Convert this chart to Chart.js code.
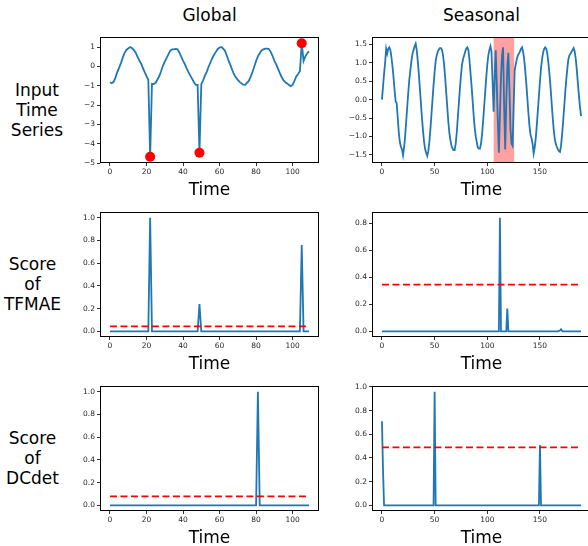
<!DOCTYPE html>
<html>
<head>
<meta charset="utf-8">
<title>Global vs Seasonal anomaly scores</title>
<script src="https://cdn.jsdelivr.net/npm/chart.js@4.4.1/dist/chart.umd.min.js"></script>
<style>
  html, body { margin: 0; padding: 0; width: 588px; height: 546px; overflow: hidden; background: #fff; }
  body { position: relative; font-family: "DejaVu Sans", sans-serif; color: #000; }
  canvas { position: absolute; }
  .col-title { position: absolute; width: 200px; text-align: center; font-size: 17px; line-height: 20px; }
  .row-label { position: absolute; width: 80px; text-align: center; font-size: 17px; line-height: 20px; }
</style>
</head>
<body>
<div class="col-title" style="left:109.5px; top:5px;">Global</div>
<div class="col-title" style="left:381.5px; top:5px;">Seasonal</div>
<div class="row-label" style="left:-3px; top:80px;">Input<br>Time<br>Series</div>
<div class="row-label" style="left:-7.5px; top:254px;">Score<br>of<br>TFMAE</div>
<div class="row-label" style="left:-7.5px; top:428px;">Score<br>of<br>DCdet</div>

<canvas id="input-global"></canvas>
<canvas id="input-seasonal"></canvas>
<canvas id="tfmae-global"></canvas>
<canvas id="tfmae-seasonal"></canvas>
<canvas id="dcdet-global"></canvas>
<canvas id="dcdet-seasonal"></canvas>

<script>
// ---- data ----
const globalSeries = [
  -0.82, -0.87, -0.80, -0.58, -0.30, -0.08, 0.17, 0.45, 0.70, 0.85,
  0.93, 1.00, 0.95, 0.85, 0.72, 0.52, 0.32, 0.15, -0.08, -0.30,
  -0.50, -0.69, -4.68, -0.90, -0.92, -0.85, -0.68, -0.50, -0.25, 0.03,
  0.25, 0.43, 0.62, 0.82, 0.88, 0.88, 0.90, 0.88, 0.72, 0.50,
  0.30, 0.12, -0.10, -0.30, -0.48, -0.65, -0.82, -0.96, -0.96, -4.47,
  -0.93, -0.72, -0.48, -0.28, -0.02, 0.20, 0.42, 0.60, 0.75, 0.90,
  0.97, 1.00, 0.92, 0.80, 0.55, 0.28, 0.05, -0.20, -0.42, -0.58,
  -0.70, -0.80, -0.88, -0.95, -0.96, -0.85, -0.75, -0.55, -0.30, -0.02,
  0.28, 0.52, 0.68, 0.83, 0.88, 0.92, 0.92, 0.90, 0.75, 0.55,
  0.30, 0.10, -0.12, -0.35, -0.55, -0.72, -0.82, -0.88, -0.96, -1.02,
  -0.96, -0.75, -0.52, -0.40, -0.25, 1.20, 0.28, 0.52, 0.68, 0.78
];
const globalAnomalyTimes = [22, 49, 105];
const globalAnomalyValues = [-4.68, -4.47, 1.20];

const seasonalSeries = [
  0.00, 0.35, 0.70, 1.00, 1.38, 1.25, 1.38, 1.42, 1.35, 1.15,
  0.90, 0.60, 0.25, -0.05, -0.10, -0.50, -0.90, -1.15, -1.28, -1.35,
  -1.51, -1.30, -1.00, -0.60, -0.20, 0.20, 0.55, 0.80, 1.05, 1.25,
  1.35, 1.45, 1.52, 1.35, 1.05, 0.70, 0.30, -0.10, -0.50, -0.85,
  -1.15, -1.35, -1.45, -1.53, -1.40, -1.15, -0.80, -0.40, 0.00, 0.40,
  0.75, 1.05, 1.20, 1.30, 1.36, 1.40, 1.40, 1.35, 1.20, 0.95,
  0.60, 0.20, -0.20, -0.60, -0.90, -1.10, -1.25, -1.33, -1.37, -1.37,
  -1.20, -0.90, -0.50, -0.10, 0.30, 0.65, 0.95, 1.10, 1.20, 1.30,
  1.38, 1.42, 1.35, 1.10, 0.75, 0.40, 0.00, -0.40, -0.75, -1.00,
  -1.15, -1.30, -1.33, -1.33, -1.20, -0.95, -0.60, -0.20, 0.20, 0.60,
  0.95, 1.20, 1.35, 1.45, 1.30, 0.50, -0.33, 0.60, 1.34, 0.40,
  -0.60, -1.44, -0.40, 0.60, 1.20, 1.42, -0.20, -1.35, -0.10, 0.90,
  1.27, 0.30, -0.80, -1.19, -1.25, -0.20, 0.80, 0.95, 1.10, 1.20,
  1.25, 1.30, 1.38, 1.42, 1.30, 1.10, 0.80, 0.45, 0.05, -0.35,
  -0.70, -0.95, -1.05, -1.20, -1.46, -1.30, -1.05, -0.70, -0.30, 0.10,
  0.50, 0.85, 1.10, 1.28, 1.38, 1.42, 1.38, 1.25, 1.00, 0.70,
  0.35, -0.05, -0.45, -0.80, -1.05, -1.20, -1.28, -1.35, -1.40, -1.42,
  -1.25, -0.95, -0.60, -0.20, 0.20, 0.55, 0.85, 1.10, 1.20, 1.25,
  1.30, 1.35, 1.40, 1.30, 1.10, 0.80, 0.45, 0.10, -0.20, -0.45
];
const seasonalAnomalySpan = [106, 125.5];

const tfmaeGlobal = [
  0, 0, 0, 0, 0, 0, 0, 0, 0, 0,
  0, 0, 0, 0, 0, 0, 0, 0, 0, 0,
  0, 0, 1.00, 0, 0, 0, 0, 0, 0, 0,
  0, 0, 0, 0, 0, 0, 0, 0, 0, 0,
  0, 0, 0, 0, 0, 0, 0, 0, 0, 0.24,
  0, 0, 0, 0, 0, 0, 0, 0, 0, 0,
  0, 0, 0, 0, 0, 0, 0, 0, 0, 0,
  0, 0, 0, 0, 0, 0, 0, 0, 0, 0,
  0, 0, 0, 0, 0, 0, 0, 0, 0, 0,
  0, 0, 0, 0, 0, 0, 0, 0, 0, 0,
  0, 0, 0, 0, 0, 0.76, 0, 0, 0, 0
];
const tfmaeGlobalThreshold = 0.044;

const tfmaeSeasonal = [
  0, 0, 0, 0, 0, 0, 0, 0, 0, 0,
  0, 0, 0, 0, 0, 0, 0, 0, 0, 0,
  0, 0, 0, 0, 0, 0, 0, 0, 0, 0,
  0, 0, 0, 0, 0, 0, 0, 0, 0, 0,
  0, 0, 0, 0, 0, 0, 0, 0, 0, 0,
  0, 0, 0, 0, 0, 0, 0, 0, 0, 0,
  0, 0, 0, 0, 0, 0, 0, 0, 0, 0,
  0, 0, 0, 0, 0, 0, 0, 0, 0, 0,
  0, 0, 0, 0, 0, 0, 0, 0, 0, 0,
  0, 0, 0, 0, 0, 0, 0, 0, 0, 0,
  0, 0, 0, 0, 0, 0, 0, 0, 0, 0,
  0, 0, 0.84, 0, 0, 0, 0, 0, 0, 0.168,
  0, 0, 0, 0, 0, 0, 0, 0, 0, 0,
  0, 0, 0, 0, 0, 0, 0, 0, 0, 0,
  0, 0, 0, 0, 0, 0, 0, 0, 0, 0,
  0, 0, 0, 0, 0, 0, 0, 0, 0, 0,
  0, 0, 0, 0, 0, 0, 0, 0, 0.004, 0.006,
  0.015, 0.003, 0, 0, 0, 0, 0, 0, 0, 0,
  0, 0, 0, 0, 0, 0, 0, 0, 0, 0
];
const tfmaeSeasonalThreshold = 0.345;

const dcdetGlobal = [
  0, 0, 0, 0, 0, 0, 0, 0, 0, 0,
  0, 0, 0, 0, 0, 0, 0, 0, 0, 0,
  0, 0, 0, 0, 0, 0, 0, 0, 0, 0,
  0, 0, 0, 0, 0, 0, 0, 0, 0, 0,
  0, 0, 0, 0, 0, 0, 0, 0, 0, 0,
  0, 0, 0, 0, 0, 0, 0, 0, 0, 0,
  0, 0, 0, 0, 0, 0, 0, 0, 0, 0,
  0, 0, 0, 0, 0, 0, 0, 0, 0, 0,
  0, 1.00, 0, 0, 0, 0, 0, 0, 0, 0,
  0, 0, 0, 0, 0, 0, 0, 0, 0, 0,
  0, 0, 0, 0, 0, 0, 0, 0, 0, 0
];
const dcdetGlobalThreshold = 0.079;

const dcdetSeasonal = [
  0.71, 0.30, 0, 0, 0, 0, 0, 0, 0, 0,
  0, 0, 0, 0, 0, 0, 0, 0, 0, 0,
  0, 0, 0, 0, 0, 0, 0, 0, 0, 0,
  0, 0, 0, 0, 0, 0, 0, 0, 0, 0,
  0, 0, 0, 0, 0, 0, 0, 0, 0, 0,
  0.96, 0, 0, 0, 0, 0, 0, 0, 0, 0,
  0, 0, 0, 0, 0, 0, 0, 0, 0, 0,
  0, 0, 0, 0, 0, 0, 0, 0, 0, 0,
  0, 0, 0, 0, 0, 0, 0, 0, 0, 0,
  0, 0, 0, 0, 0, 0, 0, 0, 0, 0,
  0, 0, 0, 0, 0, 0, 0, 0, 0, 0,
  0, 0, 0, 0, 0, 0, 0, 0, 0, 0,
  0, 0, 0, 0, 0, 0, 0, 0, 0, 0,
  0, 0, 0, 0, 0, 0, 0, 0, 0, 0,
  0, 0, 0, 0, 0, 0, 0, 0, 0, 0,
  0.51, 0, 0, 0, 0, 0, 0, 0, 0, 0,
  0, 0, 0, 0, 0, 0, 0, 0, 0, 0,
  0, 0, 0, 0, 0, 0, 0, 0, 0, 0,
  0, 0, 0, 0, 0, 0, 0, 0, 0, 0
];
const dcdetSeasonalThreshold = 0.49;

// tick positions
const globalTimeTicks = [0, 20, 40, 60, 80, 100];
const seasonalTimeTicks = [0, 50, 100, 150];
const globalValueTicks = [-5, -4, -3, -2, -1, 0, 1];
const seasonalValueTicks = [-1.5, -1.0, -0.5, 0.0, 0.5, 1.0, 1.5];
const scoreTicksTo1 = [0.0, 0.2, 0.4, 0.6, 0.8, 1.0];
const scoreTicksTo08 = [0.0, 0.2, 0.4, 0.6, 0.8];

// ---- layout / style ----
const FONT = '"DejaVu Sans", sans-serif';
const TICK_COLOR = "#262626";
const LINE_COLOR = "#1f77b4";
const RED = "#ff0000";
const SPAN_COLOR = "rgba(255, 0, 0, 0.37)";

const LEFT_COL = 100;
const RIGHT_COL = 372;
const PLOT_W = 219;
const ROW_TOP = [37, 212, 386];
const ROW_H = [126, 125, 125];
const Y_AXIS_W = 45;
const X_AXIS_H = 38;
const PAD_TOP = 8;
const PAD_RIGHT = 10;

function toPoints(values) {
  return values.map((v, i) => ({ x: i, y: v }));
}

function thresholdLine(value, n) {
  return [{ x: 0, y: value }, { x: n - 1, y: value }];
}

function tickText(decimals) {
  return (v) => (decimals ? Number(v).toFixed(decimals) : String(Math.round(v))).replace("-", "\u2212");
}

function useTicks(list) {
  return (scale) => { scale.ticks = list.map((v) => ({ value: v })); };
}

function seriesDataset(values) {
  return {
    data: toPoints(values),
    borderColor: LINE_COLOR,
    borderWidth: 1.8,
    pointRadius: 0,
    tension: 0,
    fill: false
  };
}

function thresholdDataset(value, n) {
  return {
    data: thresholdLine(value, n),
    borderColor: RED,
    borderWidth: 1.8,
    borderDash: [7, 3.5],
    pointRadius: 0,
    fill: false
  };
}

// box around the plot area + optional shaded anomaly window
const framePlugin = {
  id: "frame",
  beforeDatasetsDraw(chart, args, opts) {
    if (!opts.span) return;
    const { ctx, chartArea, scales } = chart;
    const x0 = scales.x.getPixelForValue(opts.span[0]);
    const x1 = scales.x.getPixelForValue(opts.span[1]);
    ctx.save();
    ctx.fillStyle = SPAN_COLOR;
    ctx.fillRect(x0, chartArea.top, x1 - x0, chartArea.bottom - chartArea.top);
    ctx.restore();
  },
  afterDraw(chart) {
    const { ctx, chartArea: a } = chart;
    ctx.save();
    ctx.strokeStyle = "#000";
    ctx.lineWidth = 1;
    ctx.strokeRect(a.left + 0.5, a.top + 0.5, a.right - a.left - 1, a.bottom - a.top - 1);
    ctx.restore();
  }
};

function makePanel(id, left, row, setup) {
  const canvas = document.getElementById(id);
  const w = Y_AXIS_W + PLOT_W + PAD_RIGHT;
  const h = PAD_TOP + ROW_H[row] + X_AXIS_H;
  canvas.width = w;
  canvas.height = h;
  canvas.style.width = w + "px";
  canvas.style.height = h + "px";
  canvas.style.left = (left - Y_AXIS_W) + "px";
  canvas.style.top = (ROW_TOP[row] - PAD_TOP) + "px";

  const xPad = 0.05 * (setup.length - 1);
  const tickFont = { family: FONT, size: 7.5 };
  const tickGrid = { display: true, drawOnChartArea: false, drawTicks: true, tickLength: 3, color: "#000", lineWidth: 0.8 };

  new Chart(canvas, {
    type: "line",
    data: { datasets: setup.datasets },
    options: {
      responsive: false,
      animation: false,
      events: [],
      layout: { padding: { left: 0, top: PAD_TOP, right: PAD_RIGHT, bottom: 0 } },
      plugins: {
        legend: { display: false },
        tooltip: { enabled: false },
        frame: { span: setup.span || null }
      },
      scales: {
        x: {
          type: "linear",
          min: -xPad,
          max: setup.length - 1 + xPad,
          afterBuildTicks: useTicks(setup.xTicks),
          afterFit(scale) { scale.height = X_AXIS_H; },
          border: { display: false },
          grid: tickGrid,
          ticks: {
            autoSkip: false,
            maxRotation: 0,
            padding: 2,
            color: TICK_COLOR,
            font: tickFont,
            callback: tickText(0)
          },
          title: { display: true, text: "Time", color: "#000", font: { family: FONT, size: 17 }, padding: 0 }
        },
        y: {
          min: setup.yMin,
          max: setup.yMax,
          afterBuildTicks: useTicks(setup.yTicks),
          afterFit(scale) { scale.width = Y_AXIS_W; },
          border: { display: false },
          grid: tickGrid,
          ticks: {
            autoSkip: false,
            padding: 2,
            color: TICK_COLOR,
            font: tickFont,
            callback: tickText(setup.yDecimals)
          }
        }
      }
    },
    plugins: [framePlugin]
  });
}

function drawAll() {
  makePanel("input-global", LEFT_COL, 0, {
    length: globalSeries.length,
    datasets: [
      {
        data: globalAnomalyTimes.map((t, i) => ({ x: t, y: globalAnomalyValues[i] })),
        showLine: false,
        pointRadius: 5,
        pointBackgroundColor: RED,
        pointBorderColor: RED,
        pointBorderWidth: 0
      },
      seriesDataset(globalSeries)
    ],
    xTicks: globalTimeTicks, yTicks: globalValueTicks,
    yMin: -5, yMax: 1.52, yDecimals: 0
  });

  makePanel("input-seasonal", RIGHT_COL, 0, {
    length: seasonalSeries.length,
    datasets: [seriesDataset(seasonalSeries)],
    span: seasonalAnomalySpan,
    xTicks: seasonalTimeTicks, yTicks: seasonalValueTicks,
    yMin: -1.72, yMax: 1.70, yDecimals: 1
  });

  makePanel("tfmae-global", LEFT_COL, 1, {
    length: tfmaeGlobal.length,
    datasets: [thresholdDataset(tfmaeGlobalThreshold, tfmaeGlobal.length), seriesDataset(tfmaeGlobal)],
    xTicks: globalTimeTicks, yTicks: scoreTicksTo1,
    yMin: -0.05, yMax: 1.05, yDecimals: 1
  });

  makePanel("tfmae-seasonal", RIGHT_COL, 1, {
    length: tfmaeSeasonal.length,
    datasets: [thresholdDataset(tfmaeSeasonalThreshold, tfmaeSeasonal.length), seriesDataset(tfmaeSeasonal)],
    xTicks: seasonalTimeTicks, yTicks: scoreTicksTo08,
    yMin: -0.042, yMax: 0.882, yDecimals: 1
  });

  makePanel("dcdet-global", LEFT_COL, 2, {
    length: dcdetGlobal.length,
    datasets: [thresholdDataset(dcdetGlobalThreshold, dcdetGlobal.length), seriesDataset(dcdetGlobal)],
    xTicks: globalTimeTicks, yTicks: scoreTicksTo1,
    yMin: -0.05, yMax: 1.05, yDecimals: 1
  });

  makePanel("dcdet-seasonal", RIGHT_COL, 2, {
    length: dcdetSeasonal.length,
    datasets: [thresholdDataset(dcdetSeasonalThreshold, dcdetSeasonal.length), seriesDataset(dcdetSeasonal)],
    xTicks: seasonalTimeTicks, yTicks: scoreTicksTo1,
    yMin: -0.048, yMax: 1.008, yDecimals: 1
  });
}

drawAll();
</script>
</body>
</html>
